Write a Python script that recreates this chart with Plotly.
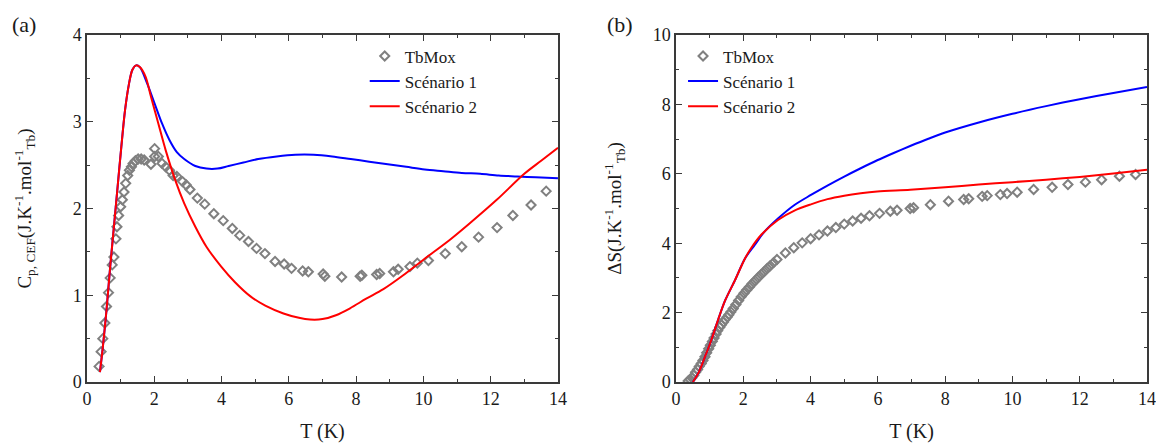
import plotly.graph_objects as go

# ---------------- Panel (a): Cp,CEF ----------------
T_cp_data = [0.36, 0.42, 0.47, 0.53, 0.58, 0.64, 0.69, 0.75, 0.80, 0.86, 0.89, 0.94,
             1.00, 1.05, 1.10, 1.15, 1.21, 1.26, 1.32, 1.37, 1.44, 1.52, 1.61, 1.70,
             1.90, 2.01, 2.01, 2.12, 2.23, 2.34, 2.45, 2.56, 2.67, 2.84, 2.95, 3.06,
             3.28, 3.50, 3.77, 4.05, 4.32, 4.54, 4.80, 5.04, 5.29, 5.59, 5.86, 6.08,
             6.41, 6.58, 7.02, 7.07, 7.57, 8.12, 8.17, 8.61, 8.70, 9.11, 9.25, 9.60,
             9.82, 10.15, 10.65, 11.14, 11.64, 12.19, 12.66, 13.20, 13.65]
C_cp_data = [0.18, 0.35, 0.50, 0.68, 0.87, 1.03, 1.20, 1.35, 1.44, 1.65, 1.79, 1.92,
             2.02, 2.10, 2.19, 2.29, 2.38, 2.44, 2.48, 2.52, 2.55, 2.57, 2.57, 2.56,
             2.51, 2.69, 2.60, 2.60, 2.52, 2.48, 2.44, 2.38, 2.37, 2.31, 2.27, 2.22,
             2.12, 2.05, 1.94, 1.86, 1.77, 1.69, 1.62, 1.54, 1.48, 1.39, 1.36, 1.31,
             1.28, 1.27, 1.245, 1.22, 1.21, 1.22, 1.23, 1.24, 1.25, 1.27, 1.30, 1.33,
             1.37, 1.40, 1.48, 1.56, 1.67, 1.78, 1.92, 2.04, 2.20]

T_cp_s1 = [0.385, 0.47, 0.58, 0.69, 0.80, 0.91, 1.02, 1.13, 1.24, 1.35, 1.46, 1.57,
           1.79, 2.01, 2.23, 2.45, 2.67, 2.89, 3.22, 3.55, 3.88, 4.21, 4.65, 5.09,
           5.64, 6.19, 6.74, 7.29, 7.84, 8.39, 8.94, 9.49, 10.04, 10.59, 11.14, 11.69,
           12.24, 12.79, 13.34, 14.0]
C_cp_s1 = [0.115, 0.40, 0.83, 1.33, 1.79, 2.25, 2.71, 3.13, 3.42, 3.60, 3.65, 3.63,
           3.44, 3.21, 2.98, 2.79, 2.65, 2.57, 2.49, 2.46, 2.46, 2.49, 2.53, 2.57,
           2.60, 2.62, 2.62, 2.60, 2.57, 2.54, 2.51, 2.48, 2.45, 2.43, 2.41, 2.40,
           2.38, 2.37, 2.36, 2.35]

T_cp_s2 = [0.385, 0.47, 0.58, 0.69, 0.80, 0.91, 1.02, 1.13, 1.24, 1.35, 1.46, 1.57,
           1.74, 1.90, 2.12, 2.34, 2.62, 2.89, 3.22, 3.55, 3.99, 4.40, 4.85, 5.30,
           5.84, 6.30, 6.63, 7.00, 7.40, 7.82, 8.30, 8.81, 9.40, 10.0, 10.79, 11.38,
           12.18, 13.0, 13.5, 14.0]
C_cp_s2 = [0.115, 0.40, 0.83, 1.33, 1.79, 2.25, 2.71, 3.13, 3.42, 3.60, 3.65, 3.63,
           3.52, 3.29, 2.98, 2.67, 2.33, 2.06, 1.79, 1.56, 1.33, 1.15, 0.99, 0.88,
           0.79, 0.74, 0.72, 0.725, 0.77, 0.85, 0.96, 1.07, 1.23, 1.41, 1.64, 1.83,
           2.10, 2.40, 2.55, 2.70]

# ---------------- Panel (b): Delta S ----------------
T_s_data = [0.36, 0.42, 0.47, 0.53, 0.58, 0.64, 0.69, 0.75, 0.80, 0.86, 0.91, 0.97,
            1.02, 1.08, 1.13, 1.19, 1.24, 1.30, 1.35, 1.41, 1.46, 1.52, 1.57, 1.63,
            1.70, 1.78, 1.86, 1.94, 2.02, 2.10, 2.18, 2.26, 2.35, 2.44, 2.53, 2.62,
            2.71, 2.80, 2.90, 3.00, 3.25, 3.50, 3.75, 4.00, 4.25, 4.50, 4.75, 5.00,
            5.25, 5.50, 5.75, 6.05, 6.37, 6.57, 6.96, 7.06, 7.56, 8.10, 8.55, 8.70,
            9.10, 9.25, 9.64, 9.84, 10.14, 10.63, 11.18, 11.65, 12.17, 12.65, 13.18, 13.66]
S_data = [0.03, 0.07, 0.12, 0.19, 0.28, 0.36, 0.45, 0.53, 0.62, 0.73, 0.84, 0.96,
          1.06, 1.17, 1.27, 1.38, 1.48, 1.58, 1.65, 1.73, 1.80, 1.87, 1.94, 2.02,
          2.12, 2.23, 2.35, 2.46, 2.56, 2.65, 2.74, 2.83, 2.92, 3.01, 3.10, 3.18,
          3.27, 3.35, 3.44, 3.53, 3.72, 3.87, 4.01, 4.13, 4.24, 4.35, 4.45, 4.55,
          4.64, 4.72, 4.79, 4.86, 4.92, 4.95, 5.00, 5.02, 5.11, 5.21, 5.26, 5.28,
          5.35, 5.37, 5.40, 5.43, 5.47, 5.55, 5.61, 5.69, 5.76, 5.83, 5.93, 5.98]

T_s_s1 = [0.50, 0.67, 0.87, 1.06, 1.26, 1.46, 1.75, 2.05, 2.34, 2.60, 3.03, 3.52,
          4.01, 4.50, 5.00, 5.49, 5.98, 6.47, 6.96, 7.50, 8.00, 9.00, 10.0, 11.0,
          12.0, 13.0, 14.0]
S_s1 = [0.0, 0.27, 0.75, 1.24, 1.82, 2.35, 2.93, 3.56, 3.95, 4.30, 4.71, 5.10,
        5.39, 5.66, 5.92, 6.16, 6.39, 6.60, 6.80, 7.01, 7.19, 7.48, 7.73, 7.95,
        8.15, 8.33, 8.50]

T_s_s2 = [0.50, 0.67, 0.87, 1.06, 1.26, 1.46, 1.75, 2.05, 2.24, 2.54, 3.03, 3.52,
          4.01, 4.50, 5.00, 5.49, 5.98, 6.96, 8.00, 9.00, 10.0, 11.0, 12.0, 13.0, 14.0]
S_s2 = [0.0, 0.27, 0.75, 1.24, 1.82, 2.35, 2.93, 3.56, 3.87, 4.25, 4.67, 4.94,
        5.12, 5.27, 5.37, 5.44, 5.49, 5.54, 5.61, 5.69, 5.76, 5.83, 5.91, 6.01, 6.12]

x_ticks = [0, 2, 4, 6, 8, 10, 12, 14]
y_ticks_a = [0, 1, 2, 3, 4]
y_ticks_b = [0, 2, 4, 6, 8, 10]

SERIF = "Liberation Serif, Times New Roman, serif"
GRAY = "#808080"
BLUE = "#0000FF"
RED = "#FF0000"
AX = "#3a3a3a"
TXT = "#1a1a1a"

fig = go.Figure()

marker_style = dict(symbol="diamond-open", size=7, color=GRAY, line=dict(width=2, color=GRAY))
spl = dict(shape="spline", smoothing=0.9, width=2)

# panel a
fig.add_trace(go.Scatter(x=T_cp_data, y=C_cp_data, mode="markers", name="TbMox",
                         marker=marker_style, xaxis="x", yaxis="y", legend="legend"))
fig.add_trace(go.Scatter(x=T_cp_s1, y=C_cp_s1, mode="lines", name="Scénario 1",
                         line=dict(color=BLUE, **spl), xaxis="x", yaxis="y", legend="legend"))
fig.add_trace(go.Scatter(x=T_cp_s2, y=C_cp_s2, mode="lines", name="Scénario 2",
                         line=dict(color=RED, **spl), xaxis="x", yaxis="y", legend="legend"))
# panel b
fig.add_trace(go.Scatter(x=T_s_data, y=S_data, mode="markers", name="TbMox",
                         marker=marker_style, xaxis="x2", yaxis="y2", legend="legend2"))
fig.add_trace(go.Scatter(x=T_s_s1, y=S_s1, mode="lines", name="Scénario 1",
                         line=dict(color=BLUE, **spl), xaxis="x2", yaxis="y2", legend="legend2"))
fig.add_trace(go.Scatter(x=T_s_s2, y=S_s2, mode="lines", name="Scénario 2",
                         line=dict(color=RED, **spl), xaxis="x2", yaxis="y2", legend="legend2"))

def axis_common(**kw):
    d = dict(showline=True, linecolor=AX, linewidth=1.5, mirror="allticks",
             ticks="inside", ticklen=6, tickwidth=1.3, tickcolor=AX,
             showgrid=False, zeroline=False, automargin=False,
             ticklabeloverflow="allow",
             tickfont=dict(family=SERIF, size=18, color=TXT))
    d.update(kw)
    return d

title_font = dict(family=SERIF, size=20, color=TXT)
ytitle_font = dict(family=SERIF, size=19, color=TXT)
minor_x = dict(ticks="inside", ticklen=3.5, tickcolor=AX, dtick=1, tick0=0)
legend_font = dict(family=SERIF, size=17, color=TXT)

fig.update_layout(
    width=1156, height=443,
    margin=dict(l=87, r=9, t=35, b=61),
    paper_bgcolor="white", plot_bgcolor="white",
    font=dict(family=SERIF, color=TXT),
    xaxis=axis_common(domain=[0, 0.4443], range=[0, 14], tickvals=x_ticks, minor=minor_x,
                      title=dict(text="T (K)", font=title_font, standoff=16), anchor="y"),
    yaxis=axis_common(domain=[0, 1], range=[0, 4], tickvals=y_ticks_a,
                      minor=dict(ticks="inside", ticklen=3.5, tickcolor=AX, dtick=0.5, tick0=0),
                      title=dict(text="C<sub>p, CEF</sub>(J.K<sup>-1</sup>.mol<sup>-1</sup><sub>Tb</sub>)",
                                 font=ytitle_font, standoff=36), anchor="x"),
    xaxis2=axis_common(domain=[0.5557, 1], range=[0, 14], tickvals=x_ticks, minor=minor_x,
                       title=dict(text="T (K)", font=title_font, standoff=16), anchor="y2"),
    yaxis2=axis_common(domain=[0, 1], range=[0, 10], tickvals=y_ticks_b,
                       minor=dict(ticks="inside", ticklen=3.5, tickcolor=AX, dtick=1, tick0=0),
                       title=dict(text="ΔS(J.K<sup>-1</sup>.mol<sup>-1</sup><sub>Tb</sub>)",
                                  font=ytitle_font, standoff=26), anchor="x2"),
    legend=dict(x=0.262, y=0.99, xanchor="left", yanchor="top",
                bgcolor="rgba(0,0,0,0)", font=legend_font, tracegroupgap=0),
    legend2=dict(x=0.5623, y=0.99, xanchor="left", yanchor="top",
                 bgcolor="rgba(0,0,0,0)", font=legend_font, tracegroupgap=0),
    annotations=[
        dict(text="(a)", xref="paper", yref="paper", x=-0.0594, y=1.029,
             xanchor="center", yanchor="middle", showarrow=False,
             font=dict(family=SERIF, size=22, color=TXT)),
        dict(text="(b)", xref="paper", yref="paper", x=0.503, y=1.029,
             xanchor="center", yanchor="middle", showarrow=False,
             font=dict(family=SERIF, size=22, color=TXT)),
    ],
)

fig.write_html("out.html", config={"displayModeBar": False},
               post_script="document.body.style.margin='0px';document.body.style.overflow='hidden';")
